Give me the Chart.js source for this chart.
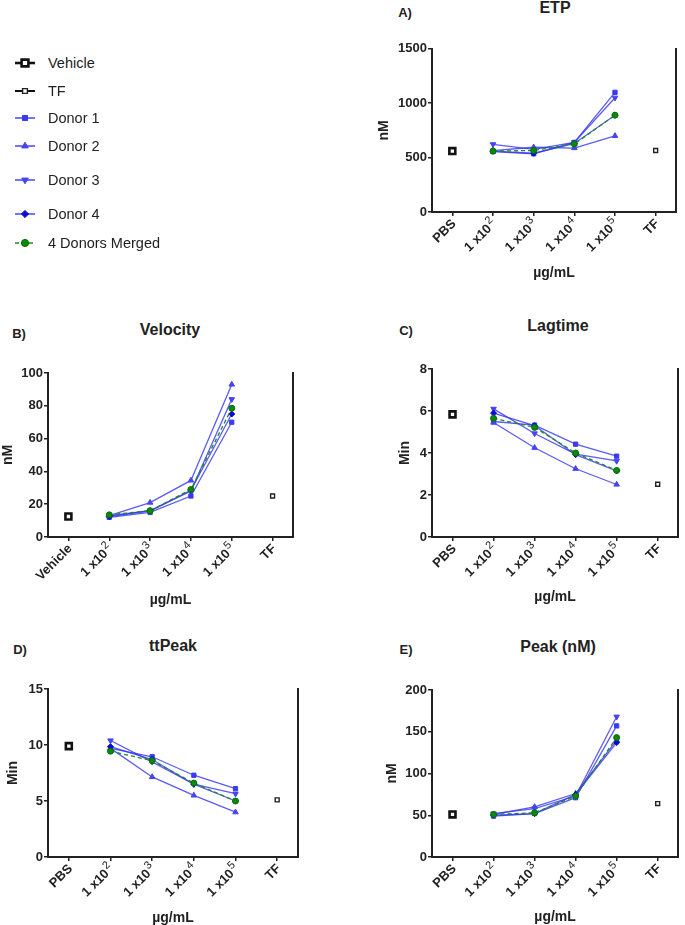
<!DOCTYPE html>
<html>
<head>
<meta charset="utf-8">
<script src="https://cdn.jsdelivr.net/npm/chart.js@4.4.1/dist/chart.umd.min.js"></script>
<style>
  body { margin: 0; background: #fff; }
  #page { position: relative; width: 685px; height: 925px; overflow: hidden;
          font-family: Arial, "Liberation Sans", sans-serif; color: #222; }
  canvas.panel { position: absolute; }
  .txt { position: absolute; transform: translate(-50%, -50%); white-space: nowrap; font-weight: bold; }
  .letter { font-size: 13px; }
  .title { font-size: 16px; }
  .leg { position: absolute; left: 12px; height: 16px; display: flex; align-items: center; font-size: 14.5px; }
  .leg canvas { margin-right: 10px; }
</style>
</head>
<body>
<div id="page">
  <div class="txt letter" style="left:405px;top:12px">A)</div>
  <div class="txt title" style="left:555px;top:8px">ETP</div>
  <div class="txt letter" style="left:19px;top:333px">B)</div>
  <div class="txt title" style="left:170px;top:330px">Velocity</div>
  <div class="txt letter" style="left:406px;top:330px">C)</div>
  <div class="txt title" style="left:558px;top:326px">Lagtime</div>
  <div class="txt letter" style="left:20px;top:649px">D)</div>
  <div class="txt title" style="left:173px;top:646px">ttPeak</div>
  <div class="txt letter" style="left:406px;top:649px">E)</div>
  <div class="txt title" style="left:558px;top:647px">Peak (nM)</div>

  <div id="legend"></div>

  <canvas class="panel" id="etp" width="325" height="250" style="left:360px;top:40px"></canvas>
  <canvas class="panel" id="velocity" width="305" height="255" style="left:0px;top:360px"></canvas>
  <canvas class="panel" id="lagtime" width="325" height="255" style="left:360px;top:355px"></canvas>
  <canvas class="panel" id="ttpeak" width="310" height="250" style="left:0px;top:675px"></canvas>
  <canvas class="panel" id="peak" width="325" height="250" style="left:360px;top:675px"></canvas>
</div>
<script>
// categories
const doseLabels = ["PBS", "1 x10²", "1 x10³", "1 x10⁴", "1 x10⁵", "TF"];
const velocityLabels = ["Vehicle", "1 x10²", "1 x10³", "1 x10⁴", "1 x10⁵", "TF"];

// ETP (nM)
const etpVehicle = 560, etpTF = 565;
const etpDonor1 = [555, 535, 640, 1100];
const etpDonor2 = [565, 595, 588, 700];
const etpDonor3 = [622, 575, 640, 1050];
const etpDonor4 = [560, 540, 630, 890];
const etpMerged = [560, 565, 625, 890];

// Velocity (nM)
const velVehicle = 12.5, velTF = 25;
const velDonor1 = [12, 15, 25, 70];
const velDonor2 = [13, 21, 34.5, 93];
const velDonor3 = [13, 16, 28, 84];
const velDonor4 = [12.5, 16, 28.5, 75];
const velMerged = [13.5, 16, 29, 78.5];

// Lagtime (min)
const lagVehicle = 5.84, lagTF = 2.51;
const lagDonor1 = [5.5, 5.33, 4.42, 3.85];
const lagDonor2 = [5.45, 4.25, 3.25, 2.5];
const lagDonor3 = [6.1, 4.93, 3.95, 3.62];
const lagDonor4 = [5.9, 5.3, 3.92, 3.15];
const lagMerged = [5.65, 5.22, 4.0, 3.17];

// ttPeak (min)
const ttpVehicle = 9.9, ttpTF = 5.1;
const ttpDonor1 = [9.7, 8.95, 7.3, 6.1];
const ttpDonor2 = [9.7, 7.15, 5.5, 4.0];
const ttpDonor3 = [10.4, 8.5, 6.5, 5.65];
const ttpDonor4 = [9.85, 8.7, 6.5, 5.0];
const ttpMerged = [9.45, 8.6, 6.6, 5.0];

// Peak (nM)
const peakVehicle = 51, peakTF = 64;
const peakDonor1 = [49, 52, 71, 157];
const peakDonor2 = [51, 60, 76, 140];
const peakDonor3 = [52, 58, 73, 168];
const peakDonor4 = [50, 52, 75, 137];
const peakMerged = [51, 53, 73, 143];

const FONT = 'Arial, "Liberation Sans", sans-serif';
Chart.defaults.font.family = FONT;
Chart.defaults.color = "#222";

const LINE_BLUE = "rgba(50, 50, 245, 0.8)";
const AXIS = "#222";

// legend/series styles
const series = [
  { label: "Vehicle", pointStyle: "rect", radius: 4.2, rotation: 0, fill: "#fff", stroke: "#111", bw: 2.6, line: "#111", lw: 2.2 },
  { label: "TF", pointStyle: "rect", radius: 2.8, rotation: 0, fill: "#fff", stroke: "#222", bw: 1.4, line: "#111", lw: 1.6 },
  { label: "Donor 1", pointStyle: "rect", radius: 3, rotation: 0, fill: "#3a3af2", stroke: "#3a3af2", bw: 1, line: LINE_BLUE, lw: 1.3 },
  { label: "Donor 2", pointStyle: "triangle", radius: 3.2, rotation: 0, fill: "#4444f4", stroke: "#4444f4", bw: 1, line: LINE_BLUE, lw: 1.3 },
  { label: "Donor 3", pointStyle: "triangle", radius: 3.2, rotation: 180, fill: "#4444f4", stroke: "#4444f4", bw: 1, line: LINE_BLUE, lw: 1.3 },
  { label: "Donor 4", pointStyle: "rectRot", radius: 3, rotation: 0, fill: "#0a0ad2", stroke: "#0a0ad2", bw: 1, line: LINE_BLUE, lw: 1.3 },
  { label: "4 Donors Merged", pointStyle: "circle", radius: 3, rotation: 0, fill: "#0a8a0a", stroke: "#0a6a0a", bw: 1, line: "#1c8c1c", lw: 1.3, dash: [4, 3] }
];

function dose(vals) { return [null, ...vals, null]; }

function datasets(vehicle, tf, d1, d2, d3, d4, merged) {
  const data = [
    [vehicle, null, null, null, null, null],
    [null, null, null, null, null, tf],
    dose(d1), dose(d2), dose(d3), dose(d4), dose(merged)
  ];
  return series.map((s, i) => ({
    label: s.label,
    data: data[i],
    showLine: i > 1,
    spanGaps: false,
    borderColor: s.line,
    borderWidth: s.lw,
    borderDash: s.dash || [],
    pointStyle: s.pointStyle,
    pointRotation: s.rotation,
    pointRadius: s.radius,
    pointBackgroundColor: s.fill,
    pointBorderColor: s.stroke,
    pointBorderWidth: s.bw,
    pointHoverRadius: s.radius,
    tension: 0
  })).reverse();
}

// x tick labels drawn rotated, with the power of ten as a raised exponent
const SUP = { "²": "2", "³": "3", "⁴": "4", "⁵": "5" };
const expTicks = {
  id: "expTicks",
  afterDraw(chart) {
    const scale = chart.scales.x;
    const ctx = chart.ctx;
    scale.ticks.forEach((t, i) => {
      const text = chart.data.labels[i];
      const last = text.slice(-1);
      const base = SUP[last] ? text.slice(0, -1) : text;
      const exp = SUP[last] || "";
      ctx.save();
      ctx.translate(scale.getPixelForTick(i) + 1, scale.top + 9);
      ctx.rotate(-Math.PI / 4);
      ctx.fillStyle = AXIS;
      ctx.textBaseline = "alphabetic";
      ctx.textAlign = "left";
      ctx.font = "bold 13px " + FONT;
      const wBase = ctx.measureText(base).width;
      ctx.font = "11px " + FONT;
      const wExp = exp ? ctx.measureText(exp).width + 1 : 0;
      ctx.font = "bold 13px " + FONT;
      ctx.fillText(base, -(wBase + wExp), 4.6);
      if (exp) {
        ctx.font = "11px " + FONT;
        ctx.fillText(exp, -wExp + 1, -0.8);
      }
      ctx.restore();
    });
  }
};

function panel(id, labels, sets, yMax, yStep, yTitle, L) {
  const tickFont = { size: 13, weight: "bold" };
  const titleFont = { size: 14, weight: "bold", lineHeight: 1 };
  return new Chart(document.getElementById(id), {
    type: "line",
    data: { labels, datasets: sets },
    plugins: [expTicks],
    options: {
      responsive: false,
      animation: false,
      layout: { padding: { top: L.top, right: L.right, left: 0, bottom: 0 } },
      plugins: { legend: { display: false }, tooltip: { enabled: false } },
      scales: {
        x: {
          offset: true,
          ticks: { autoSkip: false, maxRotation: 45, minRotation: 45, font: tickFont, color: "rgba(0,0,0,0)", padding: 1 },
          grid: { drawOnChartArea: false, drawTicks: true, tickLength: 4, color: AXIS, lineWidth: 1.5 },
          border: { color: AXIS, width: 2 },
          title: { display: true, text: "µg/mL", font: titleFont, color: AXIS, padding: { top: 0, bottom: L.xt } },
          afterFit: (s) => { s.height = L.xh; }
        },
        y: {
          min: 0, max: yMax,
          ticks: { stepSize: yStep, font: tickFont, color: AXIS, padding: 1, callback: (v) => String(v) },
          grid: { drawOnChartArea: false, drawTicks: true, tickLength: 4, color: AXIS, lineWidth: 1.5 },
          border: { color: AXIS, width: 2 },
          title: { display: true, text: yTitle, font: titleFont, color: AXIS, padding: { top: L.yt, bottom: 0 } },
          afterFit: (s) => { s.width = L.yw; }
        },
        y2: {
          position: "right",
          ticks: { display: false },
          grid: { drawOnChartArea: false, drawTicks: false },
          border: { color: AXIS, width: 2 },
          afterFit: (s) => { s.width = 0; }
        }
      }
    }
  });
}

panel("etp", doseLabels, datasets(etpVehicle, etpTF, etpDonor1, etpDonor2, etpDonor3, etpDonor4, etpMerged),
  1500, 500, "nM", { top: 8, right: 9, yw: 72, xh: 78, xt: 10, yt: 17 });
panel("velocity", velocityLabels, datasets(velVehicle, velTF, velDonor1, velDonor2, velDonor3, velDonor4, velMerged),
  100, 20, "nM", { top: 13, right: 12, yw: 48, xh: 78, xt: 8, yt: 1 });
panel("lagtime", doseLabels, datasets(lagVehicle, lagTF, lagDonor1, lagDonor2, lagDonor3, lagDonor4, lagMerged),
  8, 2, "Min", { top: 14, right: 2, yw: 72, xh: 73, xt: 6, yt: 38 });
panel("ttpeak", doseLabels, datasets(ttpVehicle, ttpTF, ttpDonor1, ttpDonor2, ttpDonor3, ttpDonor4, ttpMerged),
  15, 5, "Min", { top: 14, right: 12, yw: 48, xh: 68, xt: 0, yt: 6 });
panel("peak", doseLabels, datasets(peakVehicle, peakTF, peakDonor1, peakDonor2, peakDonor3, peakDonor4, peakMerged),
  200, 50, "nM", { top: 15, right: 2, yw: 72, xh: 68, xt: 1, yt: 25 });

// legend at top-left
const legendRows = [63, 91, 118, 146, 180, 214, 243];
const legend = document.getElementById("legend");
series.forEach((s, i) => {
  const row = document.createElement("div");
  row.className = "leg";
  row.style.top = (legendRows[i] - 8) + "px";
  const c = document.createElement("canvas");
  c.width = 26; c.height = 14;
  const ctx = c.getContext("2d");
  ctx.strokeStyle = s.line;
  ctx.lineWidth = s.lw + 0.4;
  ctx.setLineDash(s.dash || []);
  ctx.beginPath(); ctx.moveTo(3, 7); ctx.lineTo(23, 7); ctx.stroke();
  ctx.setLineDash([]);
  ctx.fillStyle = s.fill; ctx.strokeStyle = s.stroke; ctx.lineWidth = s.bw;
  Chart.helpers.drawPoint(ctx, { pointStyle: s.pointStyle, radius: s.radius + 0.6, rotation: s.rotation, borderWidth: s.bw }, 13, 7);
  row.appendChild(c);
  const t = document.createElement("span");
  t.textContent = s.label;
  row.appendChild(t);
  legend.appendChild(row);
});
</script>
</body>
</html>
